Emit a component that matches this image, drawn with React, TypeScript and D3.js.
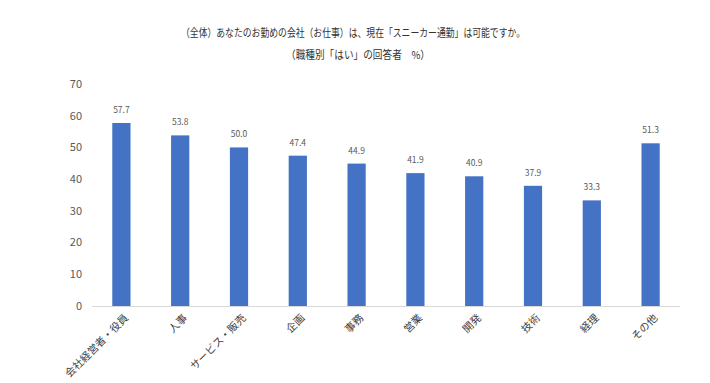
import React from "react";
import * as d3 from "d3";

const categories = ["会社経営者・役員", "人事", "サービス・販売", "企画", "事務", "営業", "開発", "技術", "経理", "その他"];
const values = [57.7, 53.8, 50.0, 47.4, 44.9, 41.9, 40.9, 37.9, 33.3, 51.3];
const yTicks = [0, 10, 20, 30, 40, 50, 60, 70];
const titleLines = ["（全体）あなたのお勤めの会社（お仕事）は、現在「スニーカー通勤」は可能ですか。", "（職種別「はい」の回答者　%）"];

const W = 710, H = 383;
const left = 92, right = 680, top = 84, bottom = 306;
const font = "'Noto Sans CJK JP', 'Noto Sans', sans-serif";
const titleWidths = [344, 144];
const titleCenters = [353, 358];

export default function App() {
  const x = d3.scaleBand<string>().domain(categories).range([left, right]).paddingInner(0.69).paddingOuter(0.345);
  const y = d3.scaleLinear().domain([0, 70]).range([bottom, top]);
  return (
    <svg width={W} height={H} style={{ position: "absolute", left: 0, top: 0, background: "#fff" }}>
      <rect width={W} height={H} fill="#fff" />
      {titleLines.map((t, i) => (
        <text key={i} x={titleCenters[i]} y={37 + i * 22} textAnchor="middle" fontFamily={font} fontSize={11}
          textLength={titleWidths[i]} lengthAdjust="spacingAndGlyphs" fill="#333">{t}</text>
      ))}
      {yTicks.map((t) => (
        <text key={t} x={82} y={y(t)} dy="0.35em" textAnchor="end" fontFamily={font} fontSize={11} fill="#595959">{t}</text>
      ))}
      <line x1={left} x2={right} y1={bottom + 0.5} y2={bottom + 0.5} stroke="#d9d9d9" />
      {categories.map((c, i) => {
        const bx = x(c)!;
        const cx = bx + x.bandwidth() / 2;
        return (
          <g key={c}>
            <rect x={bx} y={y(values[i])} width={x.bandwidth()} height={bottom - y(values[i])} fill="#4472c4" />
            <text x={cx} y={y(values[i]) - 10} textAnchor="middle" fontFamily={font} fontSize={8.5} fill="#595959">{values[i].toFixed(1)}</text>
            <text transform={`translate(${cx + 5},${bottom + 10}) rotate(-45)`} textAnchor="end" dy="0.35em" fontFamily={font} fontSize={10.5} fill="#404040">{c}</text>
          </g>
        );
      })}
    </svg>
  );
}
